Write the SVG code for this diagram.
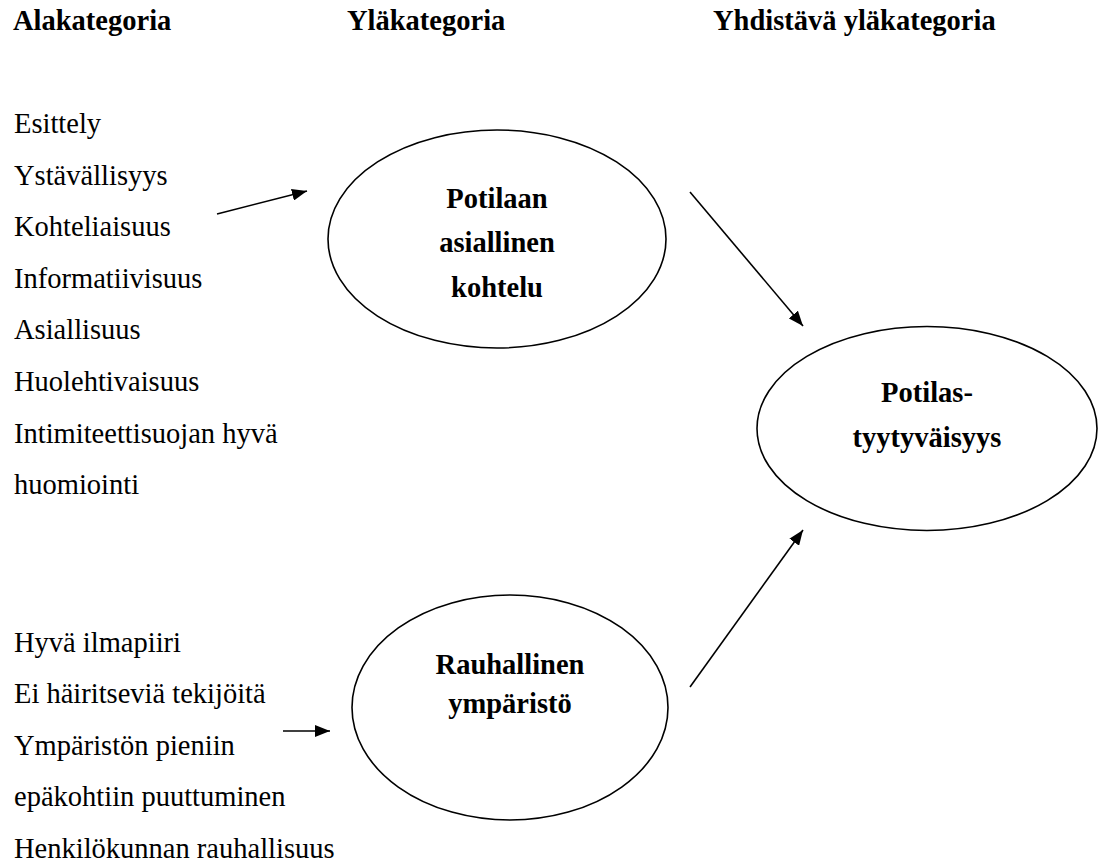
<svg xmlns="http://www.w3.org/2000/svg" width="1098" height="864" viewBox="0 0 1098 864">
<style>
text{font-family:"Liberation Serif","Times New Roman",serif;font-size:28.5px;fill:#000}
.b{font-weight:bold}
.c{text-anchor:middle}
.node ellipse{fill:none;stroke:#000;stroke-width:1.6}
.conn line{stroke:#000;stroke-width:1.6;marker-end:url(#ah)}
</style>
<defs>
<marker id="ah" markerUnits="userSpaceOnUse" markerWidth="16" markerHeight="12" refX="15" refY="6" orient="auto">
<path d="M0,0 L15,6 L0,12 z" fill="#000"/>
</marker>
</defs>
<g id="headers">
<text class="b" x="13" y="30">Alakategoria</text>
<text class="b" x="347" y="30">Yläkategoria</text>
<text class="b" x="713" y="30">Yhdistävä yläkategoria</text>
</g>
<g id="list1">
<text x="14" y="133">Esittely</text>
<text x="14" y="184.6">Ystävällisyys</text>
<text x="14" y="236.2">Kohteliaisuus</text>
<text x="14" y="287.8">Informatiivisuus</text>
<text x="14" y="339.4">Asiallisuus</text>
<text x="14" y="391">Huolehtivaisuus</text>
<text x="14" y="442.6">Intimiteettisuojan hyvä</text>
<text x="14" y="494.2">huomiointi</text>
</g>
<g id="list2">
<text x="14" y="651.5">Hyvä ilmapiiri</text>
<text x="14" y="703">Ei häiritseviä tekijöitä</text>
<text x="14" y="754.5">Ympäristön pieniin</text>
<text x="14" y="806">epäkohtiin puuttuminen</text>
<text x="14" y="857.5">Henkilökunnan rauhallisuus</text>
</g>
<g id="node-asiallinen" class="node">
<ellipse cx="497" cy="239" rx="169" ry="109"/>
<text class="b c" x="497" y="208">Potilaan</text>
<text class="b c" x="497" y="252">asiallinen</text>
<text class="b c" x="497" y="297">kohtelu</text>
</g>
<g id="node-rauhallinen" class="node">
<ellipse cx="510" cy="707.5" rx="158" ry="112.5"/>
<text class="b c" x="510" y="674">Rauhallinen</text>
<text class="b c" x="510" y="713">ympäristö</text>
</g>
<g id="node-tyytyvaisyys" class="node">
<ellipse cx="927" cy="428.5" rx="170" ry="102"/>
<text class="b c" x="927" y="402">Potilas-</text>
<text class="b c" x="927" y="447">tyytyväisyys</text>
</g>
<g id="connectors" class="conn">
<line x1="217" y1="214" x2="307" y2="191"/>
<line x1="690" y1="192" x2="803" y2="326"/>
<line x1="690" y1="687" x2="803" y2="530"/>
<line x1="283" y1="731" x2="330" y2="731"/>
</g>
</svg>
